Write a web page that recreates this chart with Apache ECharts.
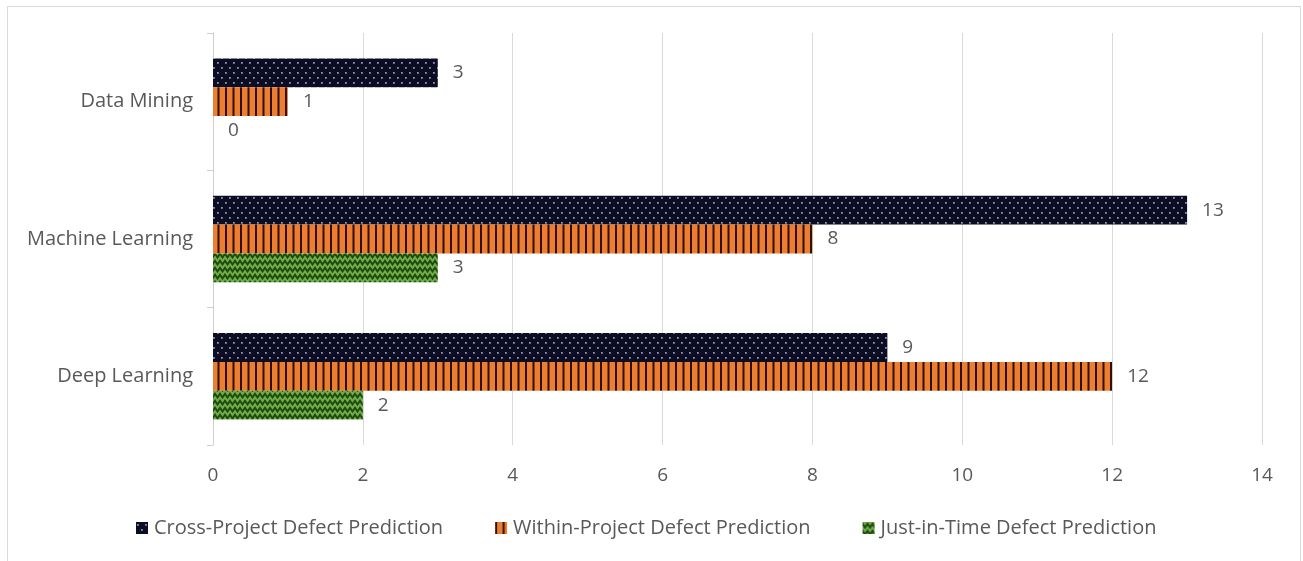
<!DOCTYPE html>
<html>
<head>
<meta charset="utf-8">
<script src="https://cdn.jsdelivr.net/npm/echarts@6/dist/echarts.min.js"></script>
<style>
  html, body { margin: 0; padding: 0; background: #fff; }
  #frame { position: absolute; left: 7px; top: 6px; width: 1294px; height: 560px; border: 1px solid #d9d9d9; border-bottom: none; box-sizing: border-box; }
  #chart { position: absolute; left: 0; top: 0; width: 1303px; height: 561px; }
</style>
</head>
<body>
<div id="frame"></div>
<div id="chart"></div>
<script>
// Categories and counts per prediction type
const categories = ['Data Mining', 'Machine Learning', 'Deep Learning'];
const seriesNames = ['Cross-Project Defect Prediction', 'Within-Project Defect Prediction', 'Just-in-Time Defect Prediction'];
const crossProject = [3, 13, 9];
const withinProject = [1, 8, 12];
const justInTime = [0, 3, 2];
const xTicks = [0, 2, 4, 6, 8, 10, 12, 14];

// Pattern fills
function dotPattern() {
  const c = document.createElement('canvas');
  c.width = 8; c.height = 10;
  const g = c.getContext('2d');
  g.fillStyle = '#0c0d22';
  g.fillRect(0, 0, 8, 10);
  g.fillStyle = '#8a96b3';
  g.fillRect(1, 2, 1.8, 1.8);
  g.fillRect(5, 7, 1.8, 1.8);
  return c;
}
function stripePattern() {
  const c = document.createElement('canvas');
  c.width = 15; c.height = 4;
  const g = c.getContext('2d');
  g.fillStyle = '#ed7d31';
  g.fillRect(0, 0, 15, 4);
  g.fillStyle = '#2e1106';
  g.fillRect(0, 0, 2, 4);
  g.fillRect(7.5, 0, 2, 4);
  return c;
}
function wavePattern() {
  const c = document.createElement('canvas');
  c.width = 10; c.height = 7;
  const g = c.getContext('2d');
  g.fillStyle = '#70ad47';
  g.fillRect(0, 0, 10, 7);
  g.strokeStyle = '#1d4810';
  g.lineWidth = 1.9;
  g.beginPath();
  g.moveTo(-2.5, 5.5); g.lineTo(0, 1.8); g.lineTo(2.5, 5.5); g.lineTo(5, 1.8);
  g.lineTo(7.5, 5.5); g.lineTo(10, 1.8); g.lineTo(12.5, 5.5);
  g.stroke();
  return c;
}

const fills = [
  { image: dotPattern(), repeat: 'repeat' },
  { image: stripePattern(), repeat: 'repeat' },
  { image: wavePattern(), repeat: 'repeat' }
];
const values = [crossProject, withinProject, justInTime];

const chart = echarts.init(document.getElementById('chart'), null, { renderer: 'canvas' });
const textFont = 'Open Sans, Noto Sans, sans-serif';

chart.setOption({
  animation: false,
  textStyle: { fontFamily: textFont },
  grid: { left: 213, right: 41, top: 33, bottom: 116, containLabel: false },
  legend: {
    left: 131, top: 513,
    itemWidth: 12, itemHeight: 12, itemGap: 52,
    icon: 'rect',
    textStyle: { color: '#595959', fontSize: 20, fontFamily: textFont, padding: [0, 0, 0, 1] },
    data: seriesNames
  },
  xAxis: {
    type: 'value', min: 0, max: 14, interval: 2,
    axisLine: { show: false }, axisTick: { show: false },
    splitLine: { lineStyle: { color: '#d9d9d9', width: 1 } },
    axisLabel: { color: '#595959', fontSize: 19, margin: 21,
      formatter: v => xTicks.includes(v) ? String(v) : '' }
  },
  yAxis: {
    type: 'category', data: categories, inverse: true,
    axisLine: { lineStyle: { color: '#cfcfcf', width: 1 } },
    axisTick: { show: true, length: 6, lineStyle: { color: '#cfcfcf' } },
    axisLabel: { color: '#595959', fontSize: 20, margin: 20 }
  },
  series: seriesNames.map((name, i) => ({
    name, type: 'bar',
    data: values[i],
    barGap: '0%', barCategoryGap: '37%',
    itemStyle: { color: fills[i] },
    label: { show: true, position: 'right', distance: 15, color: '#595959', fontSize: 19 }
  }))
});
</script>
</body>
</html>
